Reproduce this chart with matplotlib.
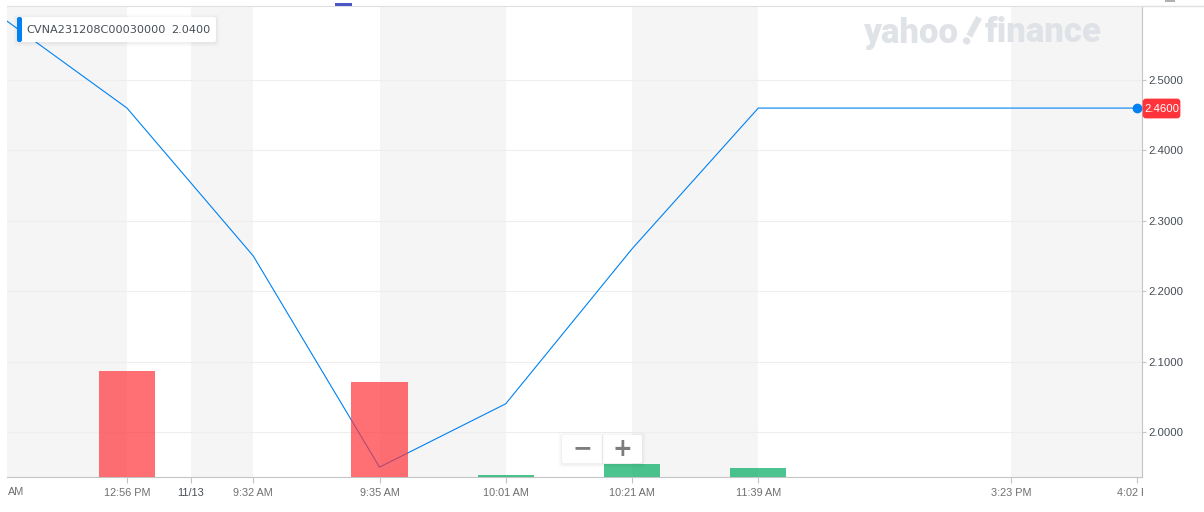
# Option price and volume, Yahoo Finance style

from matplotlib import pyplot as plt
from matplotlib.patches import FancyBboxPatch, Rectangle
from matplotlib.transforms import Bbox

slots = [0, 1, 2, 3, 4, 5, 6, 7, 8, 9]
price = [2.59, 2.46, 2.25, 1.95, 2.04, 2.26, 2.46, 2.46, 2.46, 2.46]

vol_slots = [1, 3, 4, 5, 6]
volume = [67, 60, 1, 8, 6]

tick_pos = [1, 1.507, 2, 3, 4, 5, 6, 8, 9]
tick_labels = ['12:56 PM', '11/13', '9:32 AM', '9:35 AM', '10:01 AM', '10:21 AM',
               '11:39 AM', '3:23 PM', '4:02 PM']
y_ticks = [2.0, 2.1, 2.2, 2.3, 2.4, 2.5]

# Session shading, start and end in slots
zone_starts = [0, 1.507, 3, 5, 8]
zone_ends = [1, 2, 4, 6, 9.04]

BLUE = '#0081f2'
RED = '#ff333a'
GREEN = '#00ab60'
W, H = 1204, 512

plt.rcParams['font.family'] = ['Liberation Sans', 'DejaVu Sans']

fig = plt.figure(figsize=(W / 100, H / 100), dpi=100, facecolor='white')
ax = fig.add_axes([7 / W, 1 - 477 / H, 1135 / W, 471 / H])
ax.set_xlim(0.0495, 9.0396)
ax.set_ylim(1.936, 2.605)
ax.set_facecolor('white')

for a, b in zip(zone_starts, zone_ends):
    ax.axvspan(a, b, color='#f5f5f5', lw=0, zorder=0)

ax.yaxis.tick_right()
ax.set_yticks(y_ticks)
ax.set_yticklabels(['%.4f' % v for v in y_ticks])
ax.grid(True, axis='y', color='#eeeeee', lw=0.8, zorder=1)
ax.tick_params(axis='y', length=3, width=0.8, color='#c4c4c4', labelcolor='#464e56',
               labelsize=8.2, pad=1.3)
ax.set_xticks(tick_pos)
ax.set_xticklabels(tick_labels)
ax.tick_params(axis='x', length=4.3, width=0.8, color='#c4c4c4', labelcolor='#6f6f6f',
               labelsize=7.8, pad=3.7)
ax.get_xticklabels()[1].set_color('#464e56')

# Last label is cut off at the plot edge
clip = Bbox([[0, 0], [1143, H]])
ax.get_xticklabels()[-1].set_clip_box(clip)
ax.get_xticklabels()[-1].set_clip_on(True)

ax.spines['left'].set_visible(False)
ax.spines['top'].set_color('#e0e0e0')
ax.spines['right'].set_color('#c4c4c4')
ax.spines['bottom'].set_color('#c4c4c4')

ax.plot(slots, price, color=BLUE, lw=0.8, zorder=2)
ax.plot(slots[-1], price[-1], 'o', color=BLUE, ms=6, zorder=3)

# Volume sits over the line
vol_ax = fig.add_axes(ax.get_position(), sharex=ax)
vol_ax.set_ylim(0, 298)
vol_ax.axis('off')
vol_ax.patch.set_alpha(0)
vol_ax.bar(vol_slots[:2], volume[:2], width=0.4436, color=RED, alpha=0.7, lw=0)
vol_ax.bar(vol_slots[2:], volume[2:], width=0.4436, color=GREEN, alpha=0.7, lw=0)

# Overlay in pixel coordinates for the chart furniture
ov = fig.add_axes([0, 0, 1, 1])
ov.set_xlim(0, W)
ov.set_ylim(H, 0)
ov.axis('off')
ov.patch.set_alpha(0)

ov.plot([1142, W], [6, 6], color='#e0e0e0', lw=1)
ov.add_patch(Rectangle((335, 3), 17, 3, color='#4a56c6', lw=0))
ov.add_patch(Rectangle((1165, 0), 10, 2, color='#b0b0b0', lw=0))

ov.text(8, 492, 'AM', color='#6f6f6f', fontsize=7.8, va='center', ha='left')

# Watermark
mark = dict(color='#dfe2e7', fontweight='black', va='center', family='Roboto', zorder=1)
ov.text(863, 33, 'yahoo', ha='left', fontsize=25, **mark)
ov.text(964, 32, '!', ha='left', fontsize=30, rotation=-28, rotation_mode='anchor', **mark)
ov.text(985, 33, 'finance', ha='left', fontsize=25, **mark)

# Price tag on the right axis
ov.add_patch(FancyBboxPatch((1144, 100), 35, 17, boxstyle='round,pad=0,rounding_size=2',
                            fc=RED, ec=RED, lw=2))
ov.text(1161.5, 109, '%.4f' % price[-1], color='white', fontsize=8.2, ha='center', va='center')


def shadow_box(x, y, w, h):
    for grow, alpha in [(4, 0.008), (3, 0.012), (2, 0.016), (1, 0.02)]:
        ov.add_patch(FancyBboxPatch((x - grow, y - grow + 1), w + 2 * grow, h + 2 * grow,
                                    boxstyle='round,pad=0,rounding_size=3',
                                    fc='black', ec='none', alpha=alpha))
    ov.add_patch(FancyBboxPatch((x, y), w, h, boxstyle='round,pad=0,rounding_size=2',
                                fc='white', ec='none'))


# Series tooltip
shadow_box(17, 17, 199, 25)
ov.add_patch(FancyBboxPatch((17, 17), 5, 25, boxstyle='round,pad=0,rounding_size=2',
                            fc=BLUE, ec='none'))
ov.text(26.5, 30, 'CVNA231208C00030000', color='#464e56', fontsize=8.15, va='center',
        family='DejaVu Sans')
ov.text(171.5, 30, '2.0400', color='#464e56', fontsize=8.15, va='center', family='DejaVu Sans')

# Zoom buttons
shadow_box(562, 435, 80, 28)
ov.plot([601.5, 601.5], [435, 463], color='#e8e8e8', lw=1)
ov.text(582, 448.5, '\u2212', color='#7d7d7d', fontsize=17, fontweight='bold',
        ha='center', va='center', family='DejaVu Sans')
ov.text(622, 448.5, '+', color='#7d7d7d', fontsize=17, fontweight='bold',
        ha='center', va='center', family='DejaVu Sans')

plt.savefig('out.png', dpi=100)
